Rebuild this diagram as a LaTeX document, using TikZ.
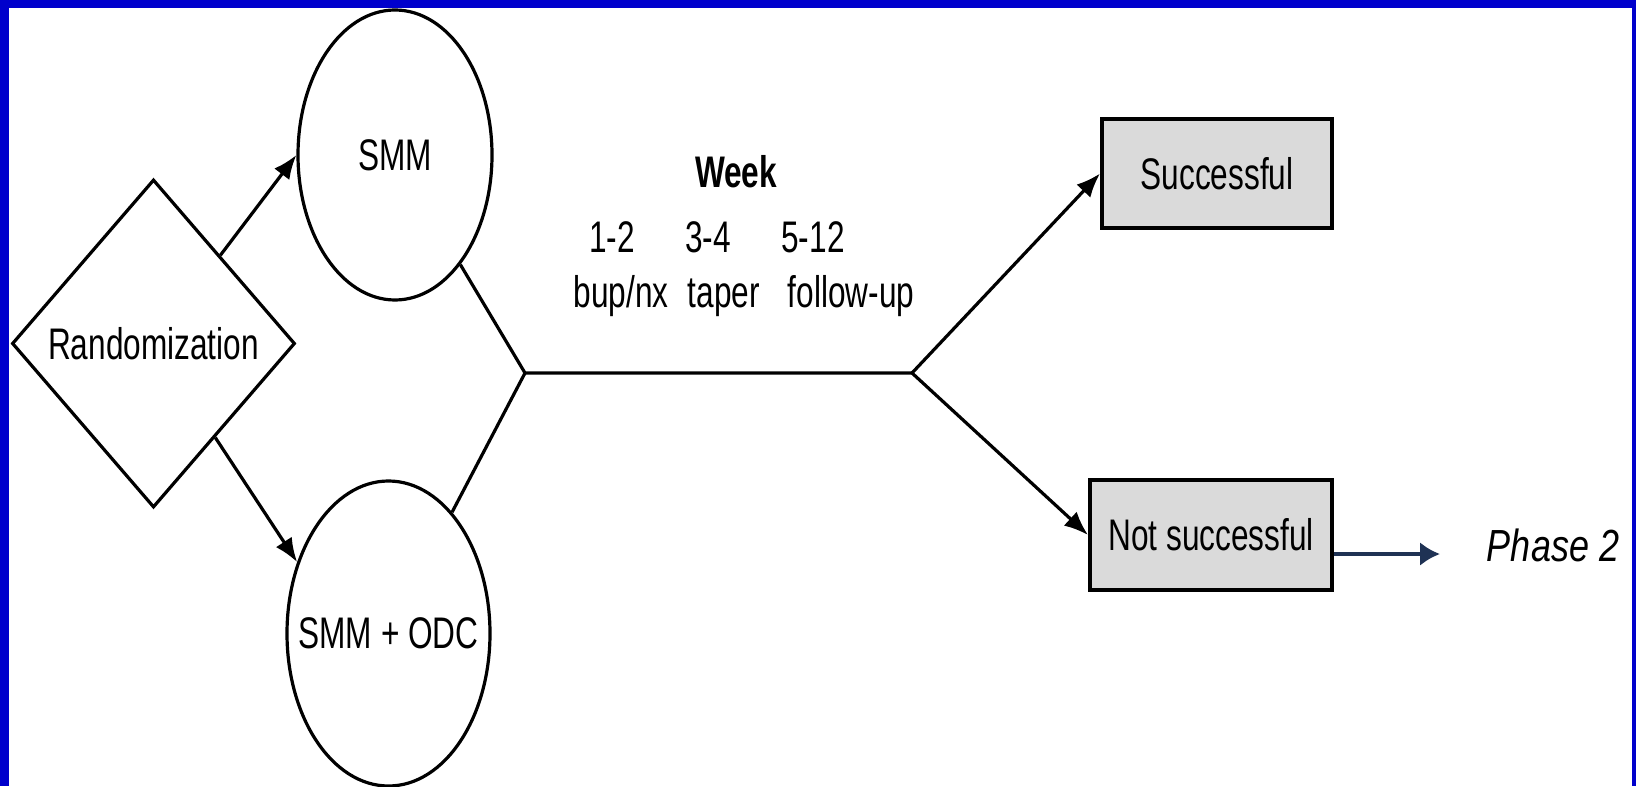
\documentclass[tikz,border=0pt]{standalone}
\usepackage{fontspec}
\setmainfont{Liberation Sans}
\usetikzlibrary{positioning,shapes.geometric,arrows.meta}
\definecolor{frameblue}{RGB}{0,0,204}
\definecolor{boxgray}{RGB}{218,218,218}
\definecolor{arrownavy}{RGB}{31,50,84}
\newcommand{\tall}[2][1.4]{\scalebox{1}[#1]{#2}}

\begin{document}
\begin{tikzpicture}[x=0.5pt, y=-0.5pt,
    every node/.style={font=\fontsize{15.8pt}{19pt}\selectfont, inner sep=0pt},
    outline/.style={draw, line width=1.6pt},
    oval/.style={outline, ellipse},
    result/.style={draw, line width=2pt, fill=boxgray, rectangle},
    arr/.style={line width=1.6pt, -{Latex[length=12pt, width=9.5pt]}},
    link/.style={line width=1.6pt, line join=round}]

      % frame
      \useasboundingbox (0,0) rectangle (1636,786);
      \fill [white] (0,0) rectangle (1636,786);
      \fill [frameblue] (0,0) rectangle (1636,8);
      \fill [frameblue] (0,0) rectangle (9,786);
      \fill [frameblue] (1632,0) rectangle (1636,786);

      \node [outline, diamond, minimum width=141.5pt, minimum height=164pt] at (153.5,343.5) (rand) {\tall{Randomization}};
      \node [oval, minimum width=97pt, minimum height=145pt, label=center:\tall{SMM}] at (395,155) (smm) {};
      \node [oval, minimum width=101.5pt, minimum height=152.5pt, label=center:\tall{SMM + ODC}] at (388.5,633.5) (smmodc) {};

      \node [result, minimum width=115pt, minimum height=54.5pt] at (1217,173.5) (succ) {\tall{Successful}};
      \node [result, minimum width=121pt, minimum height=55pt] at (1211,535) (nsucc) {\tall{Not successful}};
      \node [anchor=base, font=\fontsize{18pt}{22pt}\selectfont] at (1553,561) (phase) {\tall[1.25]{\textit{Phase 2}}};

      % week labels
      \node [anchor=base] at (736,188) (week) {\tall{\textbf{Week}}};
      \node [anchor=base] at (612,252) (wk1) {\tall{1-2}};
      \node [anchor=base] at (708,252) (wk2) {\tall{3-4}};
      \node [anchor=base] at (813,252) (wk3) {\tall{5-12}};
      \node [anchor=base] at (621,307) (bup) {\tall{bup/nx}};
      \node [anchor=base] at (724,307) (taper) {\tall{taper}};
      \node [anchor=base] at (851,307) (follow) {\tall{follow-up}};

      \coordinate (jl) at (525,373);
      \coordinate (jr) at (912,373);
      \coordinate (p2end) at (1440,554);

      \draw [arr] (rand) -- (smm.west);
      \draw [arr] (rand) -- (smmodc.142);
      \draw [link] (smm) -- (jl) -- (jr);
      \draw [link] (smmodc) -- (jl);
      \draw [arr] (jr) -- (succ.west);
      \draw [arr] (jr) -- (nsucc.west);
      \draw [arrownavy, line width=2pt, -{Latex[length=10pt, width=12pt]}] (nsucc.east |- p2end) -- (p2end);
    \end{tikzpicture}
\end{document}
